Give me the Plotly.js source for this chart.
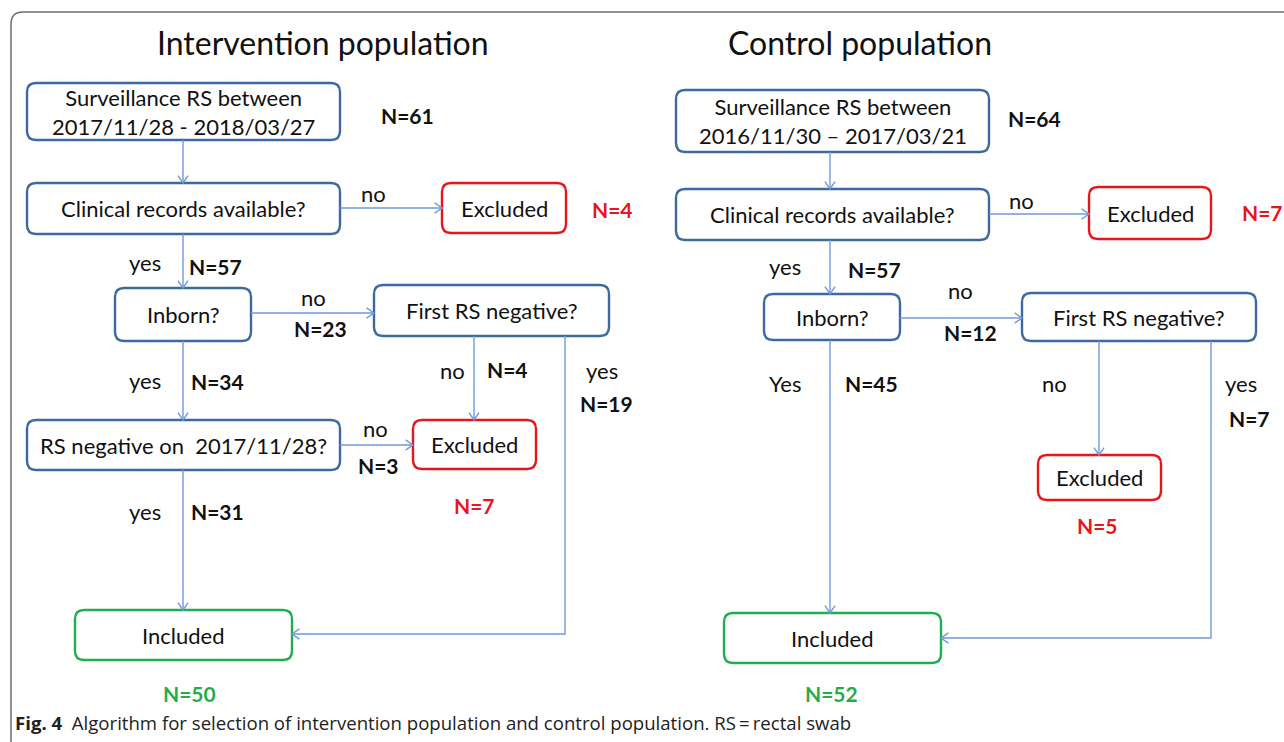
<!DOCTYPE html>
<html><head><meta charset="utf-8">
<script src="https://cdn.plot.ly/plotly-3.0.1.min.js"></script>
<style>html,body{margin:0;padding:0;background:#fff}#chart{width:1284px;height:742px}</style>
</head><body><div id="chart"></div>
<script>
// ---------- data ----------
const panelTitles = ["Intervention population", "Control population"];
const intBoxLabels = ["Surveillance RS between<br>2017/11/28 - 2018/03/27", "Clinical records available?", "Excluded", "Inborn?", "First RS negative?", "RS negative on&nbsp; 2017/11/28?", "Excluded", "Included"];
const intBranchLabels = ["no", "yes", "no", "no", "yes", "yes", "no", "yes"];
const intCounts = [61, 4, 57, 23, 4, 19, 34, 3, 7, 31, 50];
const ctlBoxLabels = ["Surveillance RS between<br>2016/11/30 \u2013 2017/03/21", "Clinical records available?", "Excluded", "Inborn?", "First RS negative?", "Excluded", "Included"];
const ctlBranchLabels = ["no", "yes", "no", "no", "yes", "Yes"];
const ctlCounts = [64, 7, 57, 12, 45, 5, 7, 52];
const captionLead = "Fig. 4";
const captionText = "Algorithm for selection of intervention population and control population. RS\u2009=\u2009rectal swab";

// ---------- layout geometry (pixel space) ----------
const BLUE = "#3c6a9e", RED = "#e8151b", GREEN = "#1fae4b", LINE = "#6f9bd8";
const intBoxPos = [[27,83,340,140],[27,183,340,234],[442,183,566,233],[115,288,251,341],[374,285,609,336],[27,420,340,470],[413,420,536,469],[75,610,292,660]];
const intBoxCol = [BLUE,BLUE,RED,BLUE,BLUE,BLUE,RED,GREEN];
const ctlBoxPos = [[676,90,989,152],[676,189,989,240],[1089,187,1211,239],[764,294,900,340],[1022,293,1256,341],[1038,455,1161,500],[724,613,941,663]];
const ctlBoxCol = [BLUE,BLUE,RED,BLUE,BLUE,RED,GREEN];
const intLinks = [[[183,140],[183,183]],[[340,208],[442,208]],[[183,234],[183,288]],[[251,313],[374,313]],[[474,336],[474,420]],[[565,336],[565,634],[292,634]],[[183,341],[183,420]],[[340,445],[413,445]],[[183,470],[183,610]]];
const ctlLinks = [[[830,152],[830,189]],[[989,214],[1089,214]],[[830,240],[830,294]],[[900,318],[1022,318]],[[1099,341],[1099,455]],[[1211,341],[1211,638],[941,638]],[[830,340],[830,613]]];
const intBranchPos = [[373,193],[145,262],[313,297],[452,370],[602,370],[145,380],[375,428],[145,511]];
const ctlBranchPos = [[1021,200],[785,266],[960,290],[1054,383],[1241,383],[785,383]];
const intCountPos = [[407,115],[612,209],[215,266],[320,328],[507,369],[606,403],[217,381],[378,465],[474,505],[217,511],[189,693]];
const intCountCol = ["#111",RED,"#111","#111","#111","#111","#111","#111",RED,"#111",GREEN];
const ctlCountPos = [[1034,118],[1262,212],[874,269],[970,332],[871,383],[1097,525],[1249,418],[831,693]];
const ctlCountCol = ["#111",RED,"#111","#111","#111",RED,"#111",GREEN];
const titlePos = [[323,42],[860,42]];

const FONT = "Lato, 'Open Sans', sans-serif";
const shapes = [];
const annotations = [];

function roundRect(b, r) {
  const [x0,y0,x1,y1] = b;
  return `M ${x0+r} ${y0} L ${x1-r} ${y0} Q ${x1} ${y0} ${x1} ${y0+r} L ${x1} ${y1-r} Q ${x1} ${y1} ${x1-r} ${y1} L ${x0+r} ${y1} Q ${x0} ${y1} ${x0} ${y1-r} L ${x0} ${y0+r} Q ${x0} ${y0} ${x0+r} ${y0} Z`;
}
function addBox(b, col, label) {
  shapes.push({type:"path", xref:"x", yref:"y", path: roundRect(b, 9), line:{color:col, width:2.4}, fillcolor:"rgba(0,0,0,0)"});
  annotations.push({x:(b[0]+b[2])/2, y:(b[1]+b[3])/2, xref:"x", yref:"y", text:label, showarrow:false,
    xanchor:"center", yanchor:"middle", font:{family:FONT, size:22, color:"#111"}});
}
function addLink(pts) {
  let p = "M " + pts.map(q => q[0] + " " + q[1]).join(" L ");
  shapes.push({type:"path", xref:"x", yref:"y", path:p, line:{color:LINE, width:1.4}});
  const a = pts[pts.length-2], e = pts[pts.length-1];
  const ang = Math.atan2(e[1]-a[1], e[0]-a[0]);
  const L = 9, s = 0.6;
  const p1 = [e[0] - L*Math.cos(ang - s), e[1] - L*Math.sin(ang - s)];
  const p2 = [e[0] - L*Math.cos(ang + s), e[1] - L*Math.sin(ang + s)];
  shapes.push({type:"path", xref:"x", yref:"y", path:`M ${p1[0]} ${p1[1]} L ${e[0]} ${e[1]} L ${p2[0]} ${p2[1]}`, line:{color:LINE, width:1.4}});
}
function addText(pos, text, size, col, bold, anchor) {
  annotations.push({x:pos[0], y:pos[1], xref:"x", yref:"y", text: bold ? "<b>"+text+"</b>" : text, showarrow:false,
    xanchor: anchor || "center", yanchor:"middle", font:{family:FONT, size:size, color:col}});
}

// outer frame
shapes.push({type:"path", xref:"x", yref:"y", path:"M 11 745 L 11 24 Q 11 12 23 12 L 1290 12", line:{color:"#6e6e6e", width:1.5}});

panelTitles.forEach((t,i) => addText(titlePos[i], t, 32, "#111", false));
intBoxLabels.forEach((t,i) => addBox(intBoxPos[i], intBoxCol[i], t));
ctlBoxLabels.forEach((t,i) => addBox(ctlBoxPos[i], ctlBoxCol[i], t));
intLinks.forEach(addLink);
ctlLinks.forEach(addLink);
intBranchLabels.forEach((t,i) => addText(intBranchPos[i], t, 22, "#111", false));
ctlBranchLabels.forEach((t,i) => addText(ctlBranchPos[i], t, 22, "#111", false));
intCounts.forEach((n,i) => addText(intCountPos[i], "N=" + n, 21, intCountCol[i], true));
ctlCounts.forEach((n,i) => addText(ctlCountPos[i], "N=" + n, 21, ctlCountCol[i], true));

annotations.push({x:13, y:722, xref:"x", yref:"y", showarrow:false, xanchor:"left", yanchor:"middle",
  text:"<b>" + captionLead + "</b>&nbsp;&nbsp;" + captionText, font:{family:"'Open Sans', sans-serif", size:18.6, color:"#222"}});

Plotly.newPlot("chart", [], {
  width:1284, height:742, margin:{l:0,r:0,t:0,b:0}, paper_bgcolor:"#fff", plot_bgcolor:"#fff",
  xaxis:{range:[0,1284], visible:false, fixedrange:true},
  yaxis:{range:[742,0], visible:false, fixedrange:true},
  shapes:shapes, annotations:annotations, showlegend:false
}, {staticPlot:true});
</script></body></html>
